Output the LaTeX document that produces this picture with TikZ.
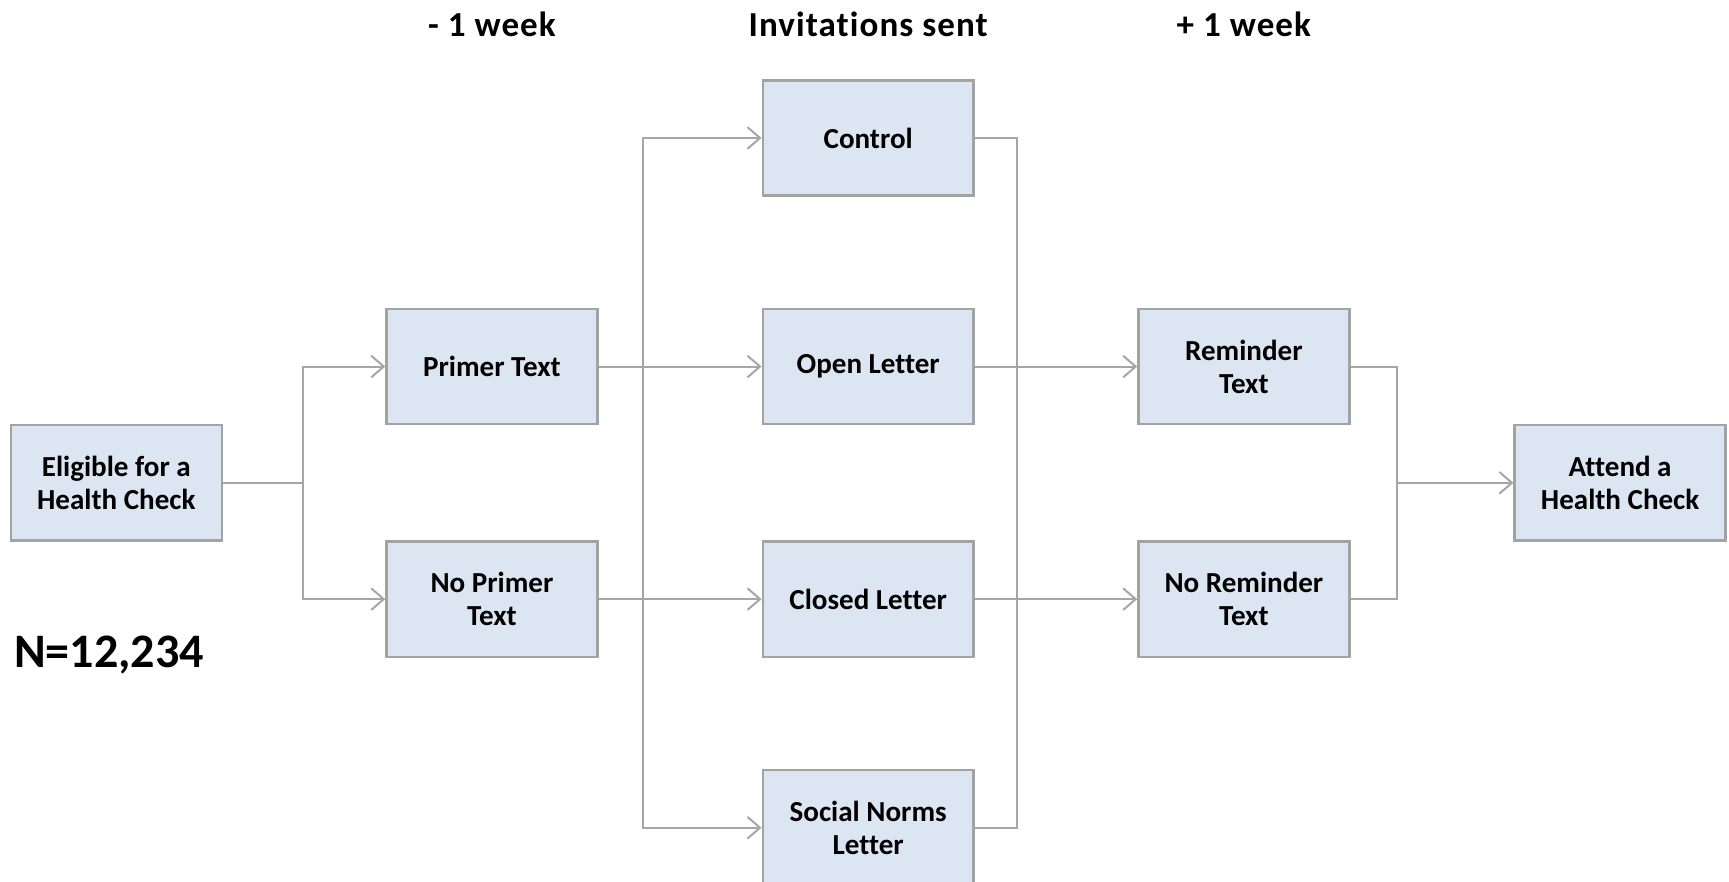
\documentclass[tikz,border=0pt]{standalone}
\usepackage{fontspec}
\setmainfont{Carlito}[Ligatures = NoCommon]
\usepackage{tikz}
\usetikzlibrary{arrows.meta}
\definecolor{boxfill}{HTML}{DCE6F2}
\definecolor{boxline}{HTML}{A3A3A3}
\definecolor{linkline}{HTML}{A6A6A6}

\begin{document}
\begin{tikzpicture}[
  box/.style = {draw = boxline, fill = boxfill, line width = 1.2pt,
    minimum width = 3.7cm, minimum height = 2.02cm, align = center,
    font = \bfseries\fontsize{14.5}{16.5}\selectfont},
  head/.style = {font = \bfseries\fontsize{17.5}{20}\selectfont\addfontfeature{LetterSpace = 3}},
  link/.style = {draw = linkline, line width = 1pt},
  >={Straight Barb[length = 2.2mm, width = 3.8mm]}]
  \useasboundingbox (0, 0) rectangle (30.33, 15.47);
  \node [head] (HL) at (8.63, 15.05) {- 1 week};
  \node [head] (HM) at (15.23, 15.05) {Invitations sent};
  \node [head] (HR) at (21.82, 15.05) {+ 1 week};
  \node [box] (EL) at (2.04, 7) {Eligible for a\\Health Check};
  \node [box] (PT) at (8.63, 9.04) {Primer Text};
  \node [box] (NP) at (8.63, 4.96) {No Primer\\Text};
  \node [box] (CO) at (15.23, 13.05) {Control};
  \node [box] (OL) at (15.23, 9.04) {Open Letter};
  \node [box] (CL) at (15.23, 4.96) {Closed Letter};
  \node [box] (SN) at (15.23, 0.95) {Social Norms\\Letter};
  \node [box] (RT) at (21.82, 9.04) {Reminder\\Text};
  \node [box] (NR) at (21.82, 4.96) {No Reminder\\Text};
  \node [box] (AT) at (28.42, 7) {Attend a\\Health Check};
  \node [anchor = west, inner sep = 0, font = \bfseries\fontsize{24}{28}\selectfont] (N) at (0.24, 3.98) {N=12,234};
  \coordinate (J1) at (5.32, 7);
  \coordinate (J2) at (11.28, 7);
  \coordinate (J3) at (17.84, 7);
  \coordinate (J4) at (24.51, 7);
  \draw [link] (EL) -- (J1);
  \draw [link, ->] (J1) |- (PT);
  \draw [link, ->] (J1) |- (NP);
  \draw [link, ->] (PT) -- (OL);
  \draw [link, ->] (NP) -- (CL);
  \draw [link, ->] (J2) |- (CO);
  \draw [link, ->] (J2) |- (SN);
  \draw [link] (CO) -| (J3);
  \draw [link] (SN) -| (J3);
  \draw [link, ->] (OL) -- (RT);
  \draw [link, ->] (CL) -- (NR);
  \draw [link] (RT) -| (J4);
  \draw [link] (NR) -| (J4);
  \draw [link, ->] (J4) -- (AT);
\end{tikzpicture}
\end{document}
